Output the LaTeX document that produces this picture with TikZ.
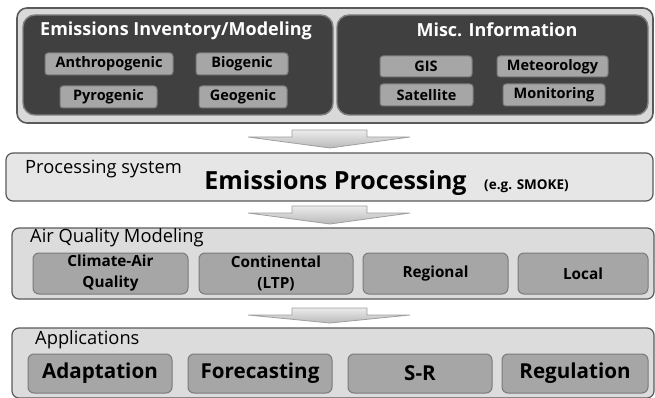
\documentclass[tikz,border=0pt]{standalone}
\usepackage{fontspec}
\setmainfont{Open Sans}
\definecolor{outerfill}{HTML}{D9D9D9}
\definecolor{outeredge}{HTML}{5A5A5A}
\definecolor{darkfill}{HTML}{404040}
\definecolor{darkedge}{HTML}{7F7F7F}
\definecolor{chipfill}{HTML}{A6A6A6}
\definecolor{chipedge}{HTML}{7A7A7A}
\definecolor{procfill}{HTML}{E6E6E6}
\definecolor{layerfill}{HTML}{DCDCDC}
\tikzset{
  outerbox/.style={draw=outeredge, fill=outerfill, line width=1.6pt, rounded corners=10pt, inner sep=0pt},
  darkbox/.style={draw=darkedge, fill=darkfill, line width=1.4pt, rounded corners=12pt, inner sep=0pt, minimum height=100pt},
  chip/.style={draw=chipedge, fill=chipfill, line width=1pt, rounded corners=3pt, inner sep=0pt,
    font=\bfseries\fontsize{14.5}{16}\selectfont, text=black},
  layerbox/.style={draw=outeredge, fill=layerfill, line width=1.2pt, rounded corners=7pt, inner sep=0pt},
  modelbox/.style={draw=chipedge, fill=chipfill, line width=1pt, rounded corners=6pt, inner sep=0pt,
    minimum height=41pt, align=center, font=\bfseries\fontsize{15.3}{21}\selectfont},
  appbox/.style={draw=chipedge, fill=chipfill, line width=1pt, rounded corners=6pt, inner sep=0pt,
    minimum height=39pt, font=\bfseries\fontsize{20.6}{24}\selectfont},
  toptitle/.style={text=white, font=\bfseries\fontsize{18}{21}\selectfont, inner sep=0pt},
  layertitle/.style={anchor=west, font=\fontsize{18.3}{21}\selectfont, inner sep=0pt},
  blockarrow/.style={draw=gray!75, line width=0.8pt, top color=gray!15, bottom color=gray!55}
}
\newcommand{\blkarrow}[3]{% name, top y, tip y
  \draw[blockarrow] (292,#2) -- (367,#2) -- (367,#2+7) -- (410,#2+7) -- (330,#3) coordinate (#1)
    -- (248,#2+7) -- (292,#2+7) -- cycle;}
\begin{document}
\begin{tikzpicture}[x=1pt,y=-1pt]
\useasboundingbox (0,0) rectangle (655,398);
% top block
\node[outerbox, minimum width=636pt, minimum height=115pt] (top) at (335,65.5) {};
\node[darkbox, minimum width=310pt] (inv) at (178,65) {};
\node[darkbox, minimum width=311pt] (misc) at (492.5,65) {};
\node[toptitle] (invtitle) at (176,31) {Emissions Inventory/Modeling};
\node[toptitle] (misctitle) at (497,30) {Misc. Information};
\node[chip, minimum width=128pt, minimum height=22pt] (anthro) at (109,64) {Anthropogenic};
\node[chip, minimum width=92pt, minimum height=22pt] (bio) at (242,64) {Biogenic};
\node[chip, minimum width=97pt, minimum height=22pt] (pyro) at (108.5,97) {Pyrogenic};
\node[chip, minimum width=88pt, minimum height=22pt] (geo) at (243,97) {Geogenic};
\node[chip, minimum width=92pt, minimum height=21pt] (gis) at (426,66.5) {GIS};
\node[chip, minimum width=111pt, minimum height=21pt] (met) at (552.5,66.5) {Meteorology};
\node[chip, minimum width=93pt, minimum height=22pt] (sat) at (426.5,95) {Satellite};
\node[chip, minimum width=102pt, minimum height=22pt] (mon) at (554,95) {Monitoring};
% arrow 1
\blkarrow{a1}{130}{148}
% processing
\node[layerbox, fill=procfill, minimum width=647pt, minimum height=48pt] (proc) at (329.5,177) {};
\node[layertitle] (proctitle) at (25,169) {Processing system};
\node[font=\bfseries\fontsize{25}{28}\selectfont, inner sep=0pt] (emproc) at (335.5,183) {Emissions Processing};
\node[font=\bfseries\fontsize{13.5}{15}\selectfont, inner sep=0pt] (smoke) at (526.5,186) {(e.g. SMOKE)};
% arrow 2
\blkarrow{a2}{206}{224}
% air quality
\node[layerbox, minimum width=642pt, minimum height=71pt] (aq) at (333,263.5) {};
\node[layertitle] (aqtitle) at (30,238) {Air Quality Modeling};
\node[modelbox, minimum width=155pt] (clim) at (110.5,273.5) {Climate-Air\\Quality};
\node[modelbox, minimum width=154pt] (cont) at (276,273.5) {Continental\\(LTP)};
\node[modelbox, minimum width=145pt] (reg) at (435.5,273.5) {Regional};
\node[modelbox, minimum width=130pt] (loc) at (583,273.5) {Local};
% arrow 3
\blkarrow{a3}{308}{323}
% applications
\node[layerbox, minimum width=642pt, minimum height=70pt] (app) at (333,363) {};
\node[layertitle] (apptitle) at (35,340) {Applications};
\node[appbox, minimum width=144pt] (adapt) at (100,373.5) {Adaptation};
\node[appbox, minimum width=144pt] (fore) at (260,373.5) {Forecasting};
\node[appbox, minimum width=144pt] (sr) at (420,373.5) {S-R};
\node[appbox, minimum width=146pt] (regu) at (575,373.5) {Regulation};
\end{tikzpicture}
\end{document}
